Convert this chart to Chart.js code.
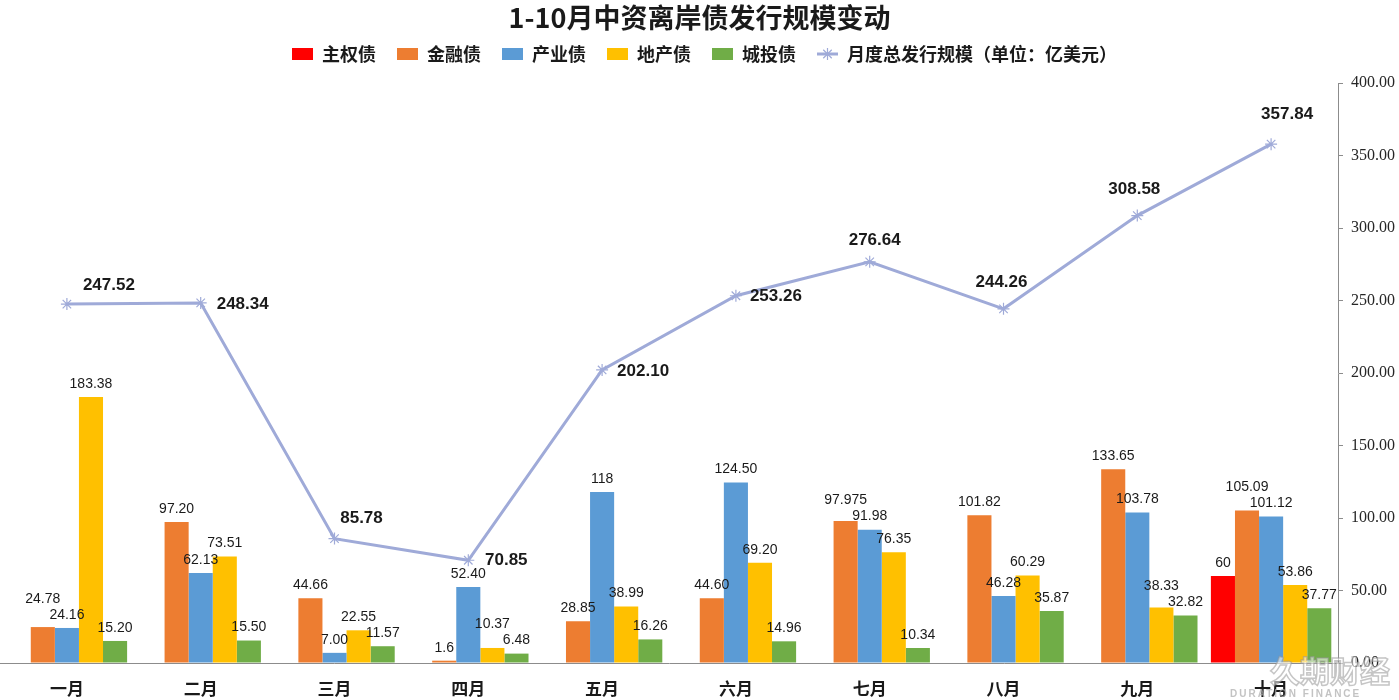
<!DOCTYPE html>
<html>
<head>
<meta charset="utf-8">
<title>1-10月中资离岸债发行规模变动</title>
<script src="https://cdn.jsdelivr.net/npm/chart.js@4.4.1/dist/chart.umd.min.js"></script>
<style>
  html, body { margin: 0; padding: 0; background: #fff; }
  #wrap { width: 1399px; height: 700px; }
</style>
</head>
<body>
<div id="wrap"><canvas id="bondChart"></canvas></div>
<script>
// Data (亿美元)
const months = ['一月', '二月', '三月', '四月', '五月', '六月', '七月', '八月', '九月', '十月'];
const sovereign = [null, null, null, null, null, null, null, null, null, 60];
const financial = [24.78, 97.20, 44.66, 1.6, 28.85, 44.60, 97.975, 101.82, 133.65, 105.09];
const industrial = [24.16, 62.13, 7.00, 52.40, 118, 124.50, 91.98, 46.28, 103.78, 101.12];
const realEstate = [183.38, 73.51, 22.55, 10.37, 38.99, 69.20, 76.35, 60.29, 38.33, 53.86];
const lgfv = [15.20, 15.50, 11.57, 6.48, 16.26, 14.96, 10.34, 35.87, 32.82, 37.77];
const monthlyTotal = [247.52, 248.34, 85.78, 70.85, 202.10, 253.26, 276.64, 244.26, 308.58, 357.84];

// y axis ticks: 0.00 ... 400.00
const yMin = 0, yMax = 400, yStep = 50;

// labels printed as in the source (not all have two decimals)
const labelOverride = {
  '主权债': { 9: '60' },
  '金融债': { 3: '1.6', 6: '97.975' },
  '产业债': { 4: '118' }
};

// where each total label sits relative to its point [dx, dy]
const totalLabelOffset = [[42, -19], [42, 1], [27, -20], [38, 0], [41, 1], [40, 1], [5, -22], [-2, -27], [-3, -26], [16, -30]];

const LINE_COLOR = '#9FAAD8';
const CJK = '"Noto Sans CJK SC", sans-serif';

function barText(label, i, v) {
  const o = labelOverride[label];
  if (o && o[i] !== undefined) return o[i];
  return v.toFixed(2);
}

// legend icons as small canvases (10px transparent lead-in so items are spaced like the original)
function rectIcon(color) {
  const c = document.createElement('canvas');
  c.width = 31; c.height = 12;
  const g = c.getContext('2d');
  g.fillStyle = color;
  g.fillRect(10, 0, 21, 12);
  return c;
}
function lineIcon(color) {
  const c = document.createElement('canvas');
  c.width = 31; c.height = 14;
  const g = c.getContext('2d');
  g.strokeStyle = color;
  g.lineWidth = 3;
  g.beginPath(); g.moveTo(10, 7); g.lineTo(31, 7); g.stroke();
  g.lineWidth = 1.2;
  g.beginPath();
  for (let a = 0; a < 4; a++) {
    const r = a * Math.PI / 4;
    g.moveTo(20.5 - 6 * Math.cos(r), 7 - 6 * Math.sin(r));
    g.lineTo(20.5 + 6 * Math.cos(r), 7 + 6 * Math.sin(r));
  }
  g.stroke();
  return c;
}

const valueLabels = {
  id: 'valueLabels',
  afterInit(chart) {
    // a bit more room under the legend
    const fit = chart.legend.fit;
    chart.legend.fit = function () { fit.call(this); this.height += 10; };
  },
  afterDatasetsDraw(chart) {
    const ctx = chart.ctx;
    const sets = chart.data.datasets;
    ctx.save();
    ctx.textAlign = 'center';
    ctx.textBaseline = 'middle';
    ctx.fillStyle = '#1a1a1a';

    // bar labels, nudged up when they collide
    ctx.font = '14px "Liberation Sans", Arial, sans-serif';
    const barIdx = sets.map((d, i) => i).filter(i => sets[i].type !== 'line');
    months.forEach((m, j) => {
      const placed = [];
      for (let k = barIdx.length - 1; k >= 0; k--) {
        const ds = sets[barIdx[k]];
        const v = ds.data[j];
        if (v == null) continue;
        const bar = chart.getDatasetMeta(barIdx[k]).data[j];
        const text = barText(ds.label, j, v);
        const w = ctx.measureText(text).width + 2;
        const h = 16;
        let y = bar.y - 13;
        let moved = true;
        while (moved) {
          moved = false;
          for (const p of placed) {
            if (Math.abs(p.x - bar.x) < (p.w + w) / 2 && Math.abs(p.y - y) < h - 0.5) {
              y = p.y - h;
              moved = true;
            }
          }
        }
        placed.push({ x: bar.x, y, w });
        ctx.fillText(text, bar.x, y);
      }
    });

    // total labels
    ctx.font = 'bold 17px "Liberation Sans", Arial, sans-serif';
    const li = sets.findIndex(d => d.type === 'line');
    chart.getDatasetMeta(li).data.forEach((pt, j) => {
      const [dx, dy] = totalLabelOffset[j];
      ctx.fillText(sets[li].data[j].toFixed(2), pt.x + dx, pt.y + dy);
    });
    ctx.restore();
  },
  afterDraw(chart) {
    // watermark
    const ctx = chart.ctx;
    ctx.save();
    ctx.textAlign = 'left';
    ctx.textBaseline = 'alphabetic';
    ctx.font = 'bold 30px ' + CJK;
    ctx.lineWidth = 1.5;
    ctx.fillStyle = 'rgba(255,255,255,0.55)';
    ctx.strokeStyle = 'rgba(150,150,150,0.55)';
    ctx.fillText('久期财经', 1270, 682);
    ctx.strokeText('久期财经', 1270, 682);
    ctx.font = 'bold 10px "Liberation Sans", sans-serif';
    if ('letterSpacing' in ctx) ctx.letterSpacing = '2px';
    ctx.fillStyle = 'rgba(170,170,170,0.7)';
    ctx.fillText('DURATION FINANCE', 1230, 697);
    ctx.restore();
  }
};

const config = {
  data: {
    labels: months,
    datasets: [
      { type: 'bar', label: '主权债', data: sovereign, backgroundColor: '#FF0000' },
      { type: 'bar', label: '金融债', data: financial, backgroundColor: '#ED7D31' },
      { type: 'bar', label: '产业债', data: industrial, backgroundColor: '#5B9BD5' },
      { type: 'bar', label: '地产债', data: realEstate, backgroundColor: '#FFC000' },
      { type: 'bar', label: '城投债', data: lgfv, backgroundColor: '#70AD47' },
      {
        type: 'line', label: '月度总发行规模（单位：亿美元）', data: monthlyTotal,
        borderColor: LINE_COLOR, borderWidth: 3, tension: 0,
        pointStyle: 'star', pointRadius: 6, pointBorderWidth: 1.2,
        pointBorderColor: LINE_COLOR, pointBackgroundColor: LINE_COLOR,
        order: 0
      }
    ].map(d => d.type === 'bar'
      ? Object.assign(d, { barPercentage: 1, categoryPercentage: 0.9, borderWidth: 0, order: 1 })
      : d)
  },
  options: {
    responsive: true,
    maintainAspectRatio: false,
    animation: false,
    layout: { padding: 0, autoPadding: false },
    plugins: {
      title: {
        display: true,
        text: '1-10月中资离岸债发行规模变动',
        color: '#1a1a1a',
        font: { family: CJK, size: 27, weight: 'bold', lineHeight: 1 },
        padding: { top: 4, bottom: 3 }
      },
      legend: {
        position: 'top',
        labels: {
          usePointStyle: true,
          pointStyleWidth: 31,
          padding: 11,
          color: '#1a1a1a',
          font: { family: CJK, size: 18, weight: 'bold' },
          generateLabels: chart => chart.data.datasets.map((ds, i) => ({
            text: ds.label,
            datasetIndex: i,
            hidden: false,
            fontColor: '#1a1a1a',
            lineWidth: 0,
            strokeStyle: 'transparent',
            fillStyle: 'transparent',
            pointStyle: ds.type === 'line' ? lineIcon(LINE_COLOR) : rectIcon(ds.backgroundColor)
          }))
        }
      },
      tooltip: { enabled: false }
    },
    scales: {
      x: {
        grid: { display: false, drawTicks: false },
        border: { color: '#8c8c8c' },
        ticks: {
          color: '#1a1a1a',
          padding: 15,
          font: { family: CJK, size: 17, weight: 'bold' }
        },
        afterFit(scale) { scale.height = 37; }
      },
      y: {
        position: 'right',
        min: yMin,
        max: yMax,
        grid: { drawOnChartArea: false, drawTicks: true, tickLength: 5, color: '#8c8c8c' },
        border: { color: '#8c8c8c' },
        ticks: {
          stepSize: yStep,
          padding: 8,
          color: '#262626',
          font: { family: '"Liberation Serif", serif', size: 16 },
          callback: v => v.toFixed(2)
        },
        afterFit(scale) { scale.width = 61; }
      }
    }
  },
  plugins: [valueLabels]
};

window.addEventListener('DOMContentLoaded', () => {
  new Chart(document.getElementById('bondChart'), config);
});
</script>
</body>
</html>
